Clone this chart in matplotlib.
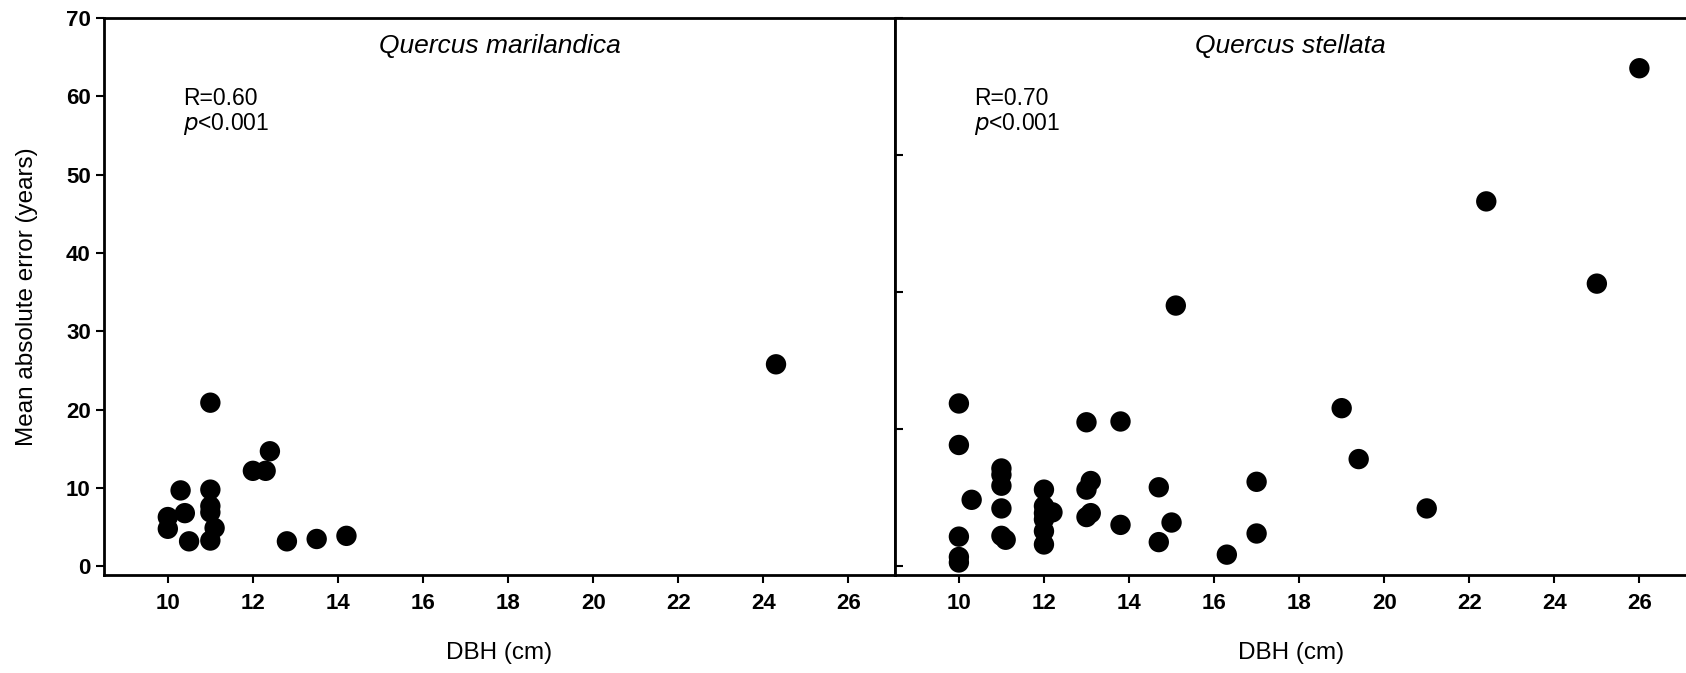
import matplotlib.pyplot as plt

plt.rcParams['font.family'] = ['Liberation Sans', 'DejaVu Sans']

# Quercus marilandica
mar_dbh = [10, 10, 10.3, 10.4, 10.5, 11, 11, 11, 11, 11.1, 11, 12, 12.3, 12.4, 12.8, 13.5, 14.2, 24.3]
mar_err = [6.3, 4.8, 9.7, 6.8, 3.2, 20.9, 9.8, 7.7, 6.9, 4.9, 3.3, 12.2, 12.2, 14.7, 3.2, 3.5, 3.9, 25.8]

# Quercus stellata
ste_dbh = [10, 10, 10, 10, 10, 10.3, 11, 11, 11, 11, 11, 11.1,
           12, 12, 12, 12, 12.2, 12, 12, 13, 13, 13, 13.1, 13.1,
           13.8, 13.8, 14.7, 14.7, 15, 15.1, 16.3, 17, 17,
           19, 19.4, 21, 22.4, 25, 26]
ste_err = [20.8, 15.5, 3.8, 1.2, 0.5, 8.5, 12.5, 11.7, 10.3, 7.4, 3.9, 3.4,
           9.8, 7.7, 6.8, 6.0, 6.9, 4.5, 2.8, 18.4, 9.8, 6.3, 10.9, 6.8,
           18.5, 5.3, 10.1, 3.1, 5.6, 33.3, 1.5, 10.8, 4.2,
           20.2, 13.7, 7.4, 46.6, 36.1, 63.6]

xticks = [10, 12, 14, 16, 18, 20, 22, 24, 26]
yticks = [0, 10, 20, 30, 40, 50, 60, 70]
yticks_right = [0, 17.5, 35, 52.5, 70]

fig = plt.figure(figsize=(16.86, 6.73), dpi=100)
ax1 = fig.add_axes([0.0617, 0.1456, 0.4692, 0.8275])
ax2 = fig.add_axes([0.5309, 0.1456, 0.4692, 0.8275])

for ax, x, y, name, r in [(ax1, mar_dbh, mar_err, 'Quercus marilandica', 'R=0.60'),
                          (ax2, ste_dbh, ste_err, 'Quercus stellata', 'R=0.70')]:
    ax.scatter(x, y, s=215, color='black', edgecolors='none', zorder=3)
    ax.set_xlim(8.5, 27.1)
    ax.set_ylim(-1.1, 70)
    ax.set_xticks(xticks)
    ax.tick_params(axis='x', direction='out', length=6, width=1.5, labelsize=16, pad=7)
    for lab in ax.get_xticklabels():
        lab.set_fontweight('bold')
    for sp in ax.spines.values():
        sp.set_linewidth(2)
    ax.text(0.5, 0.95, name, transform=ax.transAxes, ha='center', va='center',
            fontsize=19, style='italic')
    ax.text(0.10, 0.855, r, transform=ax.transAxes, ha='left', va='center', fontsize=16.5)
    ax.text(0.10, 0.81, '$p$<0.001', transform=ax.transAxes, ha='left', va='center',
            fontsize=16.5)
    ax.set_xlabel('DBH (cm)', fontsize=17.5, labelpad=20)

ax1.set_yticks(yticks)
ax1.tick_params(axis='y', direction='out', length=6, width=1.5, labelsize=16)
for lab in ax1.get_yticklabels():
    lab.set_fontweight('bold')
ax1.set_ylabel('Mean absolute error (years)', fontsize=17.5, labelpad=20)

ax2.set_yticks(yticks_right)
ax2.set_yticklabels([])
ax2.tick_params(axis='y', direction='in', length=6, width=1.5)
ax2.spines['right'].set_visible(False)

fig.savefig('out.png', dpi=100)
